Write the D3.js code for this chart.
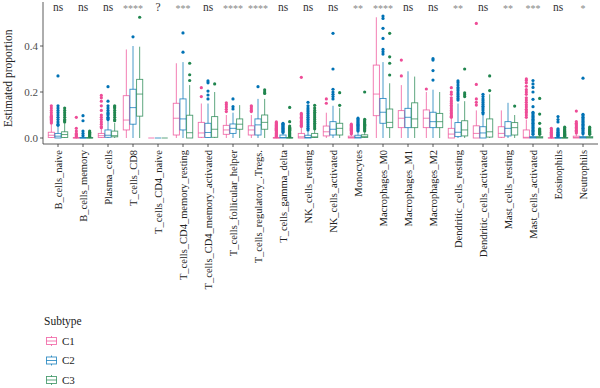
<!DOCTYPE html>
<html>
<head>
<meta charset="utf-8">
<script src="https://cdn.jsdelivr.net/npm/d3@7"></script>
<style>
  body { margin: 0; background: #fff; }
  svg { display: block; }
  svg text { font-family: "Liberation Serif", "DejaVu Serif", serif; }
</style>
</head>
<body>
<svg id="chart" width="600" height="388" font-family="Liberation Serif, DejaVu Serif, serif"></svg>
<script>
var cells = ['B_cells_naive', 'B_cells_memory', 'Plasma_cells', 'T_cells_CD8', 'T_cells_CD4_naive',
    'T_cells_CD4_memory_resting', 'T_cells_CD4_memory_activated', 'T_cells_follicular_helper',
    'T_cells_regulatory_.Tregs.', 'T_cells_gamma_delta', 'NK_cells_resting', 'NK_cells_activated',
    'Monocytes', 'Macrophages_M0', 'Macrophages_M1', 'Macrophages_M2', 'Dendritic_cells_resting',
    'Dendritic_cells_activated', 'Mast_cells_resting', 'Mast_cells_activated', 'Eosinophils', 'Neutrophils'];

var signif = ['ns', 'ns', 'ns', '****', '?', '***', 'ns', '****', '****', 'ns', 'ns', 'ns',
    '**', '****', 'ns', 'ns', '**', 'ns', '**', '***', 'ns', '*'];

var subtypes = ['C1', 'C2', 'C3'];
var colors = ['#EE4C97', '#0072B5', '#20854E'];
var yTicks = [0, 0.2, 0.4];

// [lower whisker, q1, median, q3, upper whisker]
var statsC1 = [
    [0, 0.002, 0.012, 0.025, 0.06], [0, 0, 0, 0.002, 0.004], [0, 0.002, 0.01, 0.02, 0.04],
    [0, 0.035, 0.078, 0.184, 0.385], [0, 0, 0, 0, 0], [0, 0.013, 0.086, 0.151, 0.325],
    [0, 0.003, 0.022, 0.068, 0.15], [0, 0.016, 0.035, 0.055, 0.1], [0, 0.013, 0.035, 0.053, 0.1],
    [0, 0, 0, 0.002, 0.004], [0, 0, 0.005, 0.02, 0.045], [0, 0.009, 0.027, 0.052, 0.11],
    [0, 0, 0.002, 0.008, 0.015], [0, 0.097, 0.191, 0.317, 0.525], [0, 0.045, 0.086, 0.119, 0.23],
    [0, 0.045, 0.086, 0.122, 0.2], [0, 0, 0.017, 0.042, 0.085], [0, 0, 0.02, 0.053, 0.12],
    [0, 0.003, 0.02, 0.049, 0.12], [0, 0, 0.003, 0.035, 0.08], [0, 0, 0, 0.001, 0.003],
    [0, 0, 0.002, 0.008, 0.018]
];
var statsC2 = [
    [0, 0, 0.008, 0.02, 0.05], [0, 0, 0, 0.002, 0.004], [0, 0.003, 0.012, 0.035, 0.075],
    [0, 0.06, 0.132, 0.212, 0.4], [0, 0, 0, 0, 0], [0, 0.035, 0.083, 0.17, 0.33],
    [0, 0.002, 0.024, 0.064, 0.15], [0, 0.02, 0.042, 0.061, 0.11], [0, 0.013, 0.057, 0.083, 0.17],
    [0, 0, 0.002, 0.013, 0.02], [0, 0, 0.002, 0.012, 0.03], [0, 0.013, 0.038, 0.071, 0.14],
    [0, 0, 0.003, 0.012, 0.025], [0, 0.064, 0.112, 0.172, 0.33], [0, 0.045, 0.09, 0.129, 0.29],
    [0, 0.045, 0.071, 0.112, 0.21], [0, 0.006, 0.025, 0.067, 0.15], [0, 0, 0.022, 0.049, 0.1],
    [0, 0.009, 0.042, 0.071, 0.153], [0, 0, 0.002, 0.006, 0.012], [0, 0, 0, 0.002, 0.004],
    [0, 0, 0.002, 0.006, 0.014]
];
var statsC3 = [
    [0, 0.002, 0.015, 0.027, 0.065], [0, 0, 0, 0.002, 0.004], [0, 0.005, 0.01, 0.03, 0.065],
    [0, 0.095, 0.191, 0.255, 0.397], [0, 0, 0, 0, 0], [0, 0, 0.023, 0.099, 0.23],
    [0, 0.003, 0.038, 0.093, 0.2], [0, 0.038, 0.06, 0.083, 0.143], [0, 0.038, 0.068, 0.1, 0.17],
    [0, 0, 0, 0.002, 0.004], [0, 0.002, 0.005, 0.02, 0.035], [0, 0.013, 0.042, 0.064, 0.13],
    [0, 0.002, 0.006, 0.014, 0.025], [0, 0.045, 0.068, 0.126, 0.238], [0, 0.045, 0.083, 0.153, 0.267],
    [0, 0.045, 0.071, 0.107, 0.2], [0, 0.009, 0.035, 0.075, 0.16], [0, 0.004, 0.027, 0.083, 0.19],
    [0, 0.013, 0.045, 0.067, 0.1], [0, 0, 0.002, 0.006, 0.012], [0, 0, 0, 0.002, 0.004],
    [0, 0, 0.002, 0.006, 0.012]
];

var outC1 = [
    [0.065, 0.07, 0.075, 0.08, 0.085, 0.09, 0.095, 0.1, 0.11, 0.12, 0.13, 0.14],
    [0.005, 0.01, 0.015, 0.02, 0.03, 0.042, 0.09],
    [0.045, 0.05, 0.06, 0.07, 0.08, 0.09, 0.1, 0.12, 0.14, 0.16, 0.175, 0.185],
    [], [], [],
    [0.18, 0.219],
    [0.115, 0.125, 0.135, 0.145, 0.153],
    [0.115, 0.12, 0.127, 0.135, 0.14],
    [0.006, 0.01, 0.014, 0.018, 0.022, 0.026, 0.03, 0.034, 0.038, 0.042, 0.046, 0.05, 0.054, 0.058, 0.062, 0.066, 0.07],
    [0.05, 0.055, 0.061, 0.066, 0.072, 0.078, 0.085, 0.09, 0.096, 0.102, 0.107, 0.264],
    [0.151, 0.17],
    [0.018, 0.022, 0.026, 0.03, 0.034, 0.038, 0.042, 0.046, 0.05, 0.055, 0.06],
    [],
    [0.27, 0.339],
    [0.213],
    [0.09, 0.095, 0.1, 0.107, 0.113, 0.12, 0.127, 0.135, 0.142, 0.15, 0.158, 0.165, 0.175, 0.19, 0.2, 0.219],
    [0.143, 0.155, 0.17, 0.233, 0.498],
    [],
    [0.09, 0.1, 0.11, 0.117, 0.125, 0.135, 0.145, 0.155, 0.165, 0.175, 0.19, 0.2, 0.21, 0.225, 0.24, 0.25, 0.257],
    [0.005, 0.01, 0.015, 0.02, 0.025, 0.03, 0.035, 0.042],
    [0.022, 0.028, 0.034, 0.04, 0.046, 0.052, 0.058, 0.064, 0.071, 0.117]
];
var outC2 = [
    [0.055, 0.06, 0.07, 0.08, 0.09, 0.1, 0.11, 0.12, 0.13, 0.14, 0.27],
    [0.01, 0.02, 0.03, 0.075, 0.097],
    [0.08, 0.085, 0.09, 0.1, 0.105, 0.11, 0.12, 0.13, 0.14, 0.16, 0.223],
    [0.44], [],
    [0.373, 0.457],
    [0.17, 0.187, 0.204, 0.24, 0.248],
    [0.126, 0.136, 0.17],
    [0.223],
    [0.024, 0.028, 0.032, 0.036, 0.04, 0.044, 0.048, 0.052, 0.056, 0.06, 0.064],
    [0.035, 0.042, 0.05, 0.058, 0.066, 0.074, 0.082, 0.09, 0.098, 0.106, 0.114, 0.122, 0.13, 0.14, 0.155],
    [0.17, 0.18, 0.19, 0.2, 0.212, 0.3, 0.455],
    [0.03, 0.035, 0.04, 0.045, 0.05, 0.055, 0.06, 0.065, 0.07, 0.075, 0.08, 0.086],
    [0.365, 0.375, 0.385, 0.433, 0.477, 0.52, 0.53],
    [],
    [0.252, 0.293, 0.339, 0.345],
    [0.165, 0.172, 0.18, 0.188, 0.196, 0.205, 0.213, 0.22, 0.23, 0.24, 0.248],
    [0.105, 0.112, 0.122, 0.13, 0.138, 0.146, 0.154, 0.162, 0.17, 0.18, 0.19],
    [],
    [0.016, 0.022, 0.028, 0.034, 0.04, 0.046, 0.052, 0.058, 0.064, 0.07, 0.076, 0.082, 0.088, 0.094, 0.1, 0.106, 0.112, 0.136, 0.168, 0.2, 0.22, 0.235, 0.25],
    [0.008, 0.012, 0.016, 0.02, 0.025, 0.03, 0.035, 0.04, 0.07, 0.08, 0.093],
    [0.018, 0.024, 0.03, 0.036, 0.042, 0.048, 0.054, 0.06, 0.066, 0.072, 0.078, 0.084, 0.09, 0.097, 0.103, 0.26]
];
var outC3 = [
    [0.07, 0.075, 0.08, 0.09, 0.1, 0.11, 0.12, 0.13],
    [0.006, 0.01, 0.015, 0.02, 0.025, 0.03],
    [0.075, 0.08, 0.09, 0.1, 0.11, 0.12, 0.13, 0.135, 0.14],
    [0.525], [],
    [0.25, 0.275, 0.325],
    [0.235],
    [],
    [0.194, 0.2, 0.209],
    [0.006, 0.01, 0.014, 0.018, 0.022, 0.026, 0.03, 0.034, 0.038, 0.042, 0.046, 0.052, 0.071, 0.133],
    [0.04, 0.048, 0.056, 0.064, 0.072, 0.08, 0.088, 0.096, 0.104, 0.112, 0.12, 0.13, 0.142],
    [0.142, 0.197],
    [0.03, 0.035, 0.04, 0.045, 0.05, 0.055, 0.06, 0.065, 0.07, 0.075, 0.081, 0.2],
    [0.274, 0.325, 0.353, 0.455],
    [], [],
    [0.18, 0.188, 0.196, 0.3],
    [0.206, 0.27],
    [0.139],
    [0.016, 0.02, 0.024, 0.028, 0.032, 0.036, 0.04, 0.064, 0.104, 0.172],
    [0.008, 0.012, 0.016, 0.02, 0.024, 0.028, 0.032, 0.036, 0.04, 0.047],
    [0.016, 0.02, 0.024, 0.028, 0.032, 0.036, 0.04, 0.047]
];

var stats = [statsC1, statsC2, statsC3];
var outliers = [outC1, outC2, outC3];

var svg = d3.select('#chart');
var left = 43, right = 598, bottom = 144;
var serif = 'Liberation Serif, DejaVu Serif, serif';

var x = d3.scalePoint().domain(cells).range([left, right]).padding(0.6);
var step = x.step();
var xSub = d3.scaleBand().domain(subtypes).range([-0.4 * step, 0.4 * step]);
var y = d3.scaleLinear().domain([0, 0.4]).range([138, 46]);

// flatten into one record per box
var boxes = [];
subtypes.forEach(function(s, si) {
    cells.forEach(function(c, ci) {
        var st = stats[si][ci];
        boxes.push({cell: c, sub: s, color: colors[si], lo: st[0], q1: st[1], med: st[2], q3: st[3], hi: st[4],
            out: outliers[si][ci]});
    });
});

var bw = xSub.bandwidth() * 0.92;
function cx(b) { return x(b.cell) + xSub(b.sub) + xSub.bandwidth() / 2; }

var g = svg.append('g').attr('class', 'boxes');
var box = g.selectAll('g.box').data(boxes).enter().append('g').attr('class', 'box');

box.append('line')
    .attr('x1', cx).attr('x2', cx)
    .attr('y1', function(b) { return y(b.hi); })
    .attr('y2', function(b) { return y(b.lo); })
    .attr('stroke', function(b) { return b.color; })
    .attr('stroke-width', 0.9)
    .attr('stroke-opacity', 0.8);

box.append('rect')
    .attr('x', function(b) { return cx(b) - bw / 2; })
    .attr('width', bw)
    .attr('y', function(b) { return y(b.q3); })
    .attr('height', function(b) { return y(b.q1) - y(b.q3); })
    .attr('fill', '#fff')
    .attr('stroke', function(b) { return b.color; })
    .attr('stroke-width', 0.9)
    .attr('stroke-opacity', 0.8);

box.append('line')
    .attr('x1', function(b) { return cx(b) - bw / 2; })
    .attr('x2', function(b) { return cx(b) + bw / 2; })
    .attr('y1', function(b) { return y(b.med); })
    .attr('y2', function(b) { return y(b.med); })
    .attr('stroke', function(b) { return b.color; })
    .attr('stroke-width', 0.9)
    .attr('stroke-opacity', 0.8);

box.selectAll('circle').data(function(b) {
        return b.out.map(function(v) { return {v: v, b: b}; });
    })
    .enter().append('circle')
    .attr('cx', function(d) { return cx(d.b); })
    .attr('cy', function(d) { return y(d.v); })
    .attr('r', 1.6)
    .attr('fill', function(d) { return d.b.color; });

// axes
svg.append('line')
    .attr('x1', left).attr('x2', left).attr('y1', 2).attr('y2', bottom)
    .attr('stroke', '#333').attr('stroke-width', 0.8);
svg.append('line')
    .attr('x1', left).attr('x2', right).attr('y1', bottom).attr('y2', bottom)
    .attr('stroke', '#333').attr('stroke-width', 0.8);

var yt = svg.append('g').selectAll('g').data(yTicks).enter().append('g');
yt.append('line')
    .attr('x1', left - 3).attr('x2', left)
    .attr('y1', function(d) { return y(d); }).attr('y2', function(d) { return y(d); })
    .attr('stroke', '#333').attr('stroke-width', 0.8);
yt.append('text')
    .attr('x', left - 5)
    .attr('y', function(d) { return y(d); })
    .attr('dy', '0.35em')
    .attr('text-anchor', 'end')
    .attr('font-family', serif)
    .attr('font-size', 11)
    .attr('fill', '#4d4d4d')
    .text(function(d) { return d3.format('.1f')(d); });

var xt = svg.append('g').selectAll('g').data(cells).enter().append('g');
xt.append('line')
    .attr('x1', function(d) { return x(d); }).attr('x2', function(d) { return x(d); })
    .attr('y1', bottom).attr('y2', bottom + 3)
    .attr('stroke', '#333').attr('stroke-width', 0.8);
xt.append('text')
    .attr('transform', function(d) { return 'translate(' + x(d) + ',' + (bottom + 6) + ') rotate(-90)'; })
    .attr('dy', '0.35em')
    .attr('text-anchor', 'end')
    .attr('font-family', serif)
    .attr('font-size', 10.5)
    .attr('fill', '#222')
    .text(function(d) { return d; });

svg.append('text')
    .attr('transform', 'translate(12,' + y(0.26) + ') rotate(-90)')
    .attr('text-anchor', 'middle')
    .attr('font-family', serif)
    .attr('font-size', 11.5)
    .attr('fill', '#222')
    .text('Estimated proportion');

// significance labels
svg.append('g').selectAll('text').data(cells).enter().append('text')
    .attr('x', function(d) { return x(d); })
    .attr('y', function(d, i) { return signif[i].charAt(0) === '*' ? 12 : 10.5; })
    .attr('text-anchor', 'middle')
    .attr('font-family', serif)
    .attr('font-size', function(d, i) { return signif[i].charAt(0) === '*' ? 10 : 11.5; })
    .attr('fill', function(d, i) { return signif[i].charAt(0) === '*' ? '#888' : '#333'; })
    .text(function(d, i) { return signif[i]; });

// legend
var legend = svg.append('g').attr('transform', 'translate(44,0)');
legend.append('text')
    .attr('x', 0).attr('y', 325)
    .attr('font-family', serif)
    .attr('font-size', 11.5)
    .attr('fill', '#222')
    .text('Subtype');

var key = legend.selectAll('g.key').data(subtypes).enter().append('g')
    .attr('class', 'key')
    .attr('transform', function(d, i) { return 'translate(0,' + (341 + i * 19.5) + ')'; });
key.append('line')
    .attr('x1', 7.5).attr('x2', 7.5).attr('y1', -5).attr('y2', 5)
    .attr('stroke', function(d, i) { return colors[i]; }).attr('stroke-width', 0.9).attr('stroke-opacity', 0.8);
key.append('rect')
    .attr('x', 2.5).attr('y', -3.5).attr('width', 10).attr('height', 7)
    .attr('fill', '#fff')
    .attr('stroke', function(d, i) { return colors[i]; }).attr('stroke-width', 0.9).attr('stroke-opacity', 0.8);
key.append('line')
    .attr('x1', 2.5).attr('x2', 12.5).attr('y1', 0).attr('y2', 0)
    .attr('stroke', function(d, i) { return colors[i]; }).attr('stroke-width', 0.9).attr('stroke-opacity', 0.8);
key.append('text')
    .attr('x', 18).attr('y', 0).attr('dy', '0.35em')
    .attr('font-family', serif)
    .attr('font-size', 11)
    .attr('fill', '#222')
    .text(function(d) { return d; });
</script>
</body>
</html>
